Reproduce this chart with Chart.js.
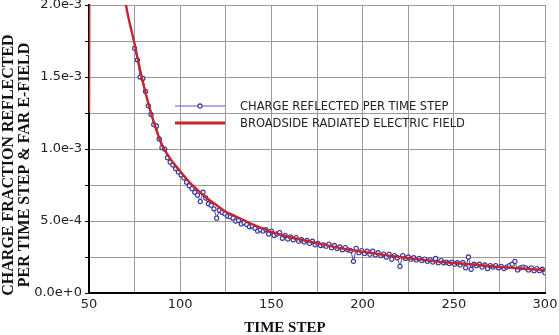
<!DOCTYPE html>
<html>
<head>
<meta charset="utf-8">
<script src="https://cdn.jsdelivr.net/npm/chart.js@4/dist/chart.umd.min.js"></script>
<style>
  html, body { margin: 0; padding: 0; background: #fff; }
  canvas { display: block; }
</style>
</head>
<body>
<canvas id="chart" width="559" height="335"></canvas>
<script>
const xTitle = 'TIME STEP';
const yTitle = ['CHARGE FRACTION REFLECTED', 'PER TIME STEP & FAR E-FIELD'];
const chargeLabel = 'CHARGE REFLECTED PER TIME STEP';
const fieldLabel = 'BROADSIDE RADIATED ELECTRIC FIELD';

// broadside far field (values in units of 1e-3)
const fieldSteps = [50, 51, 55, 60, 65, 70, 75, 80, 85, 90, 95, 100, 105, 110, 115, 120, 125, 130, 135, 140,
  145, 150, 160, 170, 180, 190, 200, 210, 220, 230, 240, 250, 260, 270, 280, 290, 300];
const fieldValues = [1.25, 6.0, 4.3, 3.2, 2.5, 2.02, 1.73, 1.44, 1.21, 1.03, 0.925, 0.845, 0.77, 0.71, 0.655, 0.61, 0.565, 0.535, 0.505, 0.475,
  0.45, 0.425, 0.389, 0.36, 0.333, 0.307, 0.287, 0.268, 0.25, 0.235, 0.22, 0.208, 0.198, 0.186, 0.177, 0.168, 0.16];

// charge reflected per time step (values in units of 1e-3)
const chargeSteps = [75, 76.5, 78, 79.5, 81, 82.5, 84, 85.5, 87, 88.5, 90, 91.5, 93, 94.5, 96, 97.5, 99, 100.5, 102, 103.5,
  105, 106.5, 108, 109.5, 111, 112.5, 114, 115.5, 117, 118.5, 120, 121.5, 123, 124.5, 126, 127.5, 129, 130.5, 132, 133.5,
  135, 136.5, 138, 139.5, 141, 142.5, 144, 145.5, 147, 148.5, 150, 151.5, 153, 154.5, 156, 157.5, 159, 160.5, 162, 163.5,
  165, 166.5, 168, 169.5, 171, 172.5, 174, 175.5, 177, 178.5, 180, 181.5, 183, 184.5, 186, 187.5, 189, 190.5, 192, 193.5,
  195, 196.5, 198, 199.5, 201, 202.5, 204, 205.5, 207, 208.5, 210, 211.5, 213, 214.5, 216, 217.5, 219, 220.5, 222, 223.5,
  225, 226.5, 228, 229.5, 231, 232.5, 234, 235.5, 237, 238.5, 240, 241.5, 243, 244.5, 246, 247.5, 249, 250.5, 252, 253.5,
  255, 256.5, 258, 259.5, 261, 262.5, 264, 265.5, 267, 268.5, 270, 271.5, 273, 274.5, 276, 277.5, 279, 280.5, 282, 283.5,
  285, 286.5, 288, 289.5, 291, 292.5, 294, 295.5, 297, 298.5, 300];
const chargeValues = [1.70, 1.62, 1.50, 1.49, 1.40, 1.30, 1.24, 1.17, 1.16, 1.07, 1.01, 1.00, 0.94, 0.91, 0.89, 0.865, 0.84, 0.82, 0.80, 0.77,
  0.745, 0.725, 0.70, 0.68, 0.635, 0.70, 0.66, 0.62, 0.61, 0.585, 0.52, 0.575, 0.56, 0.55, 0.535, 0.53, 0.52, 0.50, 0.505, 0.48,
  0.49, 0.475, 0.46, 0.465, 0.45, 0.43, 0.44, 0.43, 0.44, 0.41, 0.43, 0.40, 0.41, 0.42, 0.38, 0.40, 0.375, 0.39, 0.37, 0.385,
  0.36, 0.37, 0.355, 0.365, 0.345, 0.36, 0.335, 0.345, 0.33, 0.335, 0.325, 0.34, 0.315, 0.33, 0.31, 0.32, 0.30, 0.315, 0.30, 0.295,
  0.22, 0.31, 0.28, 0.295, 0.275, 0.29, 0.27, 0.29, 0.265, 0.28, 0.26, 0.27, 0.25, 0.27, 0.235, 0.26, 0.245, 0.185, 0.26, 0.24,
  0.25, 0.235, 0.245, 0.23, 0.24, 0.225, 0.235, 0.22, 0.23, 0.215, 0.24, 0.21, 0.225, 0.21, 0.215, 0.205, 0.215, 0.20, 0.21, 0.195,
  0.21, 0.175, 0.25, 0.165, 0.20, 0.19, 0.20, 0.18, 0.195, 0.17, 0.19, 0.18, 0.19, 0.175, 0.185, 0.17, 0.18, 0.19, 0.20, 0.22,
  0.16, 0.175, 0.18, 0.175, 0.16, 0.175, 0.155, 0.17, 0.155, 0.165, 0.14];

const toPoints = (xs, ys) => xs.map((x, i) => ({ x: x, y: ys[i] * 1e-3 }));

const axisTitles = {
  id: 'axisTitles',
  afterDraw(chart) {
    const ctx = chart.ctx;
    ctx.save();
    ctx.fillStyle = '#111';
    ctx.textAlign = 'center';
    ctx.textBaseline = 'middle';
    ctx.font = 'bold 15px "Liberation Serif"';
    ctx.fillText(xTitle, 285, 328);
    ctx.font = 'bold 16px "Liberation Serif"';
    ctx.translate(0, 165);
    ctx.rotate(-Math.PI / 2);
    yTitle.forEach((t, i) => ctx.fillText(t, 0, 9 + i * 16));
    ctx.restore();
  }
};

// legend sits inside the plot, no box
const innerLegend = {
  id: 'innerLegend',
  afterDraw(chart) {
    const ctx = chart.ctx;
    const rows = [
      { ds: chart.data.datasets[0], y: 106, color: '#5a5ab6', width: 1, marker: true },
      { ds: chart.data.datasets[1], y: 123, color: '#c3262d', width: 3, marker: false }
    ];
    ctx.save();
    rows.forEach(r => {
      ctx.strokeStyle = r.color;
      ctx.lineWidth = r.width;
      ctx.beginPath();
      ctx.moveTo(175, r.y);
      ctx.lineTo(225, r.y);
      ctx.stroke();
      if (r.marker) {
        ctx.fillStyle = '#f4f4ff';
        ctx.strokeStyle = '#33339a';
        ctx.lineWidth = 1.1;
        ctx.beginPath();
        ctx.arc(200, r.y, 2.1, 0, Math.PI * 2);
        ctx.fill();
        ctx.stroke();
      }
      ctx.fillStyle = '#222';
      ctx.font = '11.5px "DejaVu Sans"';
      ctx.textAlign = 'left';
      ctx.textBaseline = 'middle';
      ctx.fillText(r.ds.label, 240, r.y + 1);
    });
    ctx.restore();
  }
};

new Chart(document.getElementById('chart'), {
  type: 'line',
  data: {
    datasets: [
      {
        label: chargeLabel,
        data: toPoints(chargeSteps, chargeValues),
        borderColor: '#4848a8',
        borderWidth: 1,
        pointRadius: 2.1,
        pointBorderWidth: 1.1,
        pointBackgroundColor: '#f4f4ff',
        pointBorderColor: '#33339a',
        tension: 0,
        order: 2
      },
      {
        label: fieldLabel,
        data: toPoints(fieldSteps, fieldValues),
        borderColor: '#c3262d',
        borderWidth: 2.4,
        pointRadius: 0,
        cubicInterpolationMode: 'monotone',
        order: 1
      }
    ]
  },
  options: {
    responsive: false,
    animation: false,
    devicePixelRatio: 1,
    layout: { padding: { top: 5, right: 14, left: 0, bottom: 0 } },
    plugins: { legend: { display: false }, tooltip: { enabled: false } },
    scales: {
      x: {
        type: 'linear',
        min: 50,
        max: 300,
        ticks: {
          stepSize: 25,
          autoSkip: false,
          maxRotation: 0,
          padding: 4,
          color: '#222',
          font: { family: 'DejaVu Sans', size: 13 },
          callback: v => (v % 50 === 0 ? String(v) : '')
        },
        grid: { color: '#9a9a9a', lineWidth: 1, drawTicks: false },
        border: { color: '#000', width: 2 },
        afterFit: s => { s.height = 42; s.paddingLeft = 0; s.paddingRight = 0; }
      },
      y: {
        min: 0,
        max: 0.002,
        ticks: {
          stepSize: 0.00025,
          autoSkip: false,
          padding: 3,
          color: '#222',
          font: { family: 'DejaVu Sans', size: 13 },
          callback: v => {
            const n = Math.round(v / 0.00025);
            return n % 2 === 0 ? (n * 0.00025).toExponential(1) : '';
          }
        },
        grid: { color: '#9a9a9a', lineWidth: 1, tickColor: '#000', tickLength: 4 },
        border: { color: '#000', width: 2 },
        afterFit: s => { s.width = 89; s.paddingTop = 0; s.paddingBottom = 0; }
      }
    }
  },
  plugins: [axisTitles, innerLegend]
});
</script>
</body>
</html>
